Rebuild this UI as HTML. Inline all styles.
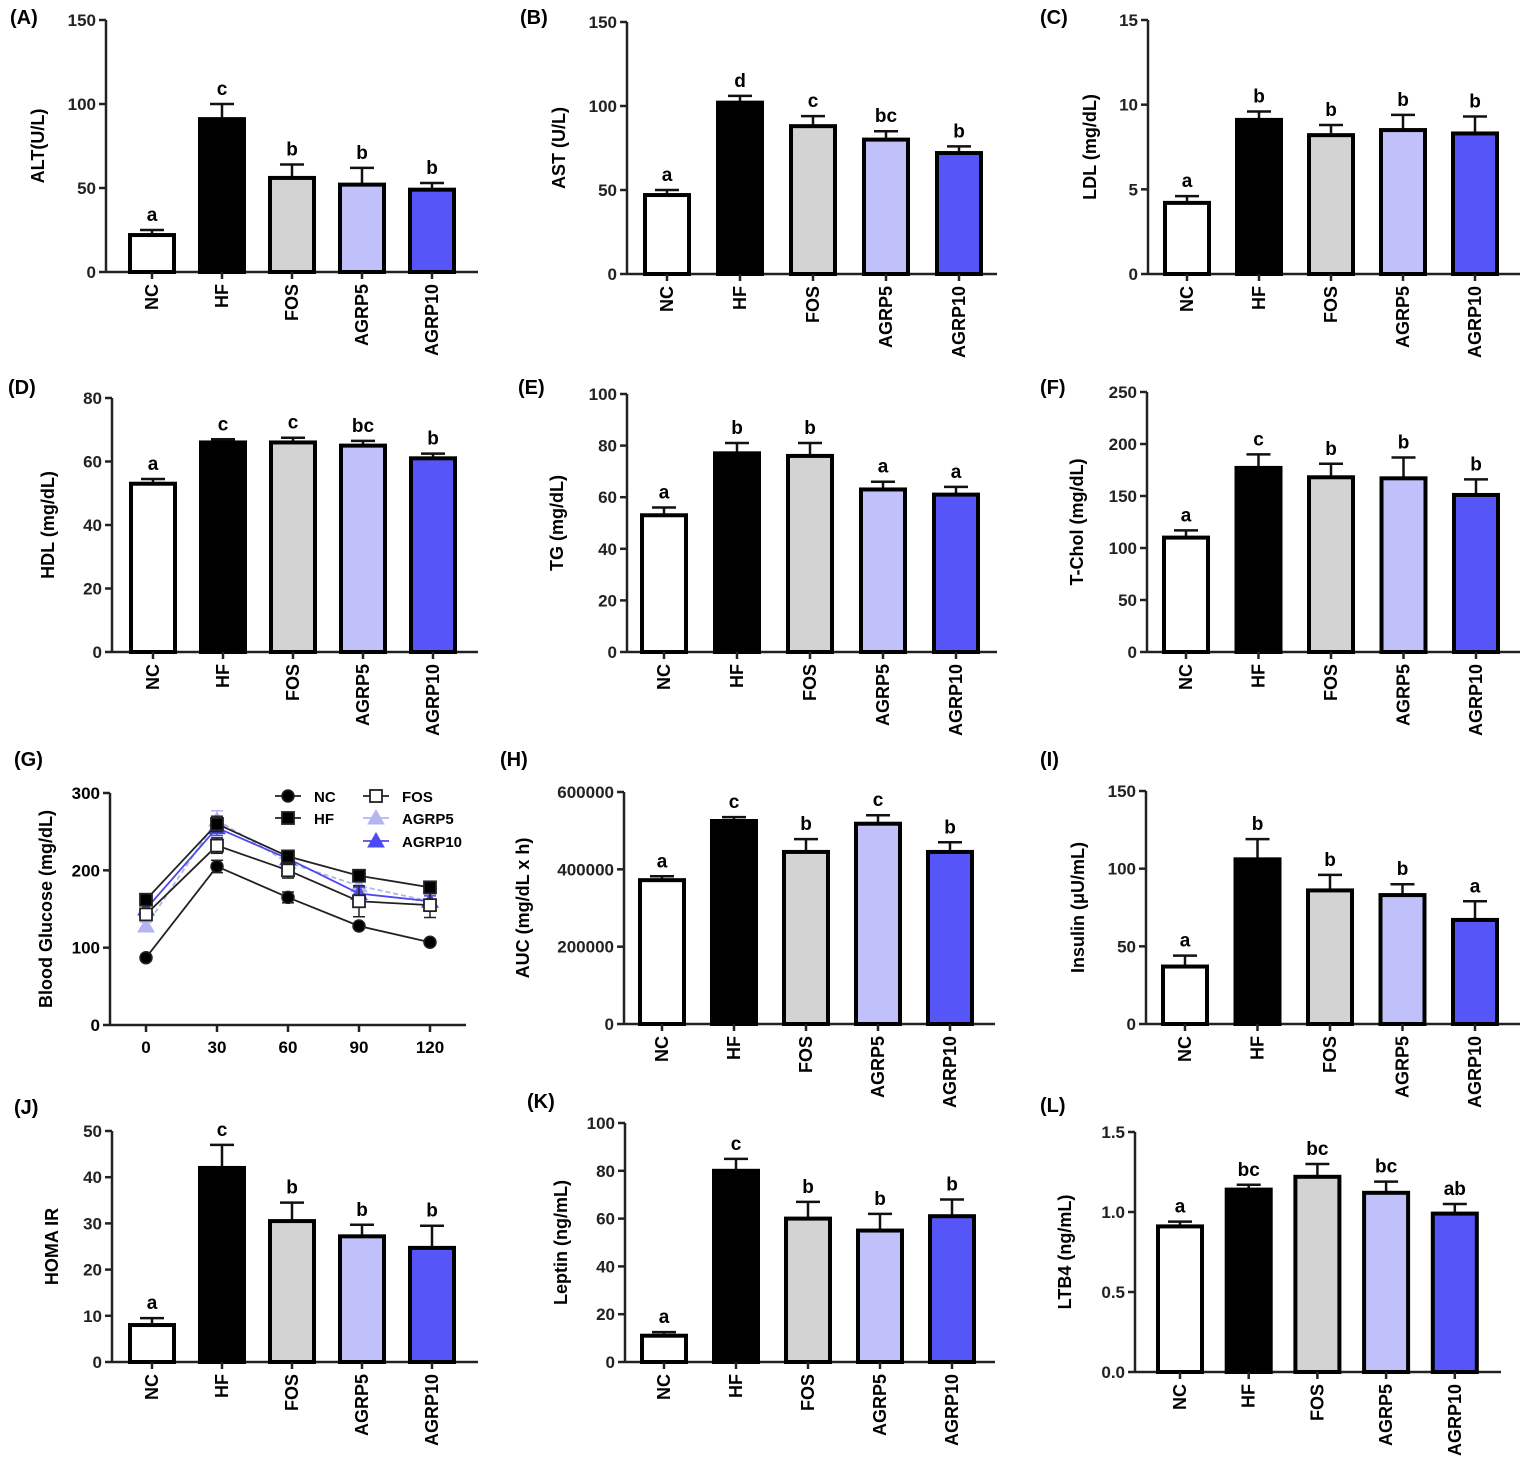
<!DOCTYPE html>
<html><head><meta charset="utf-8"><style>
html,body{margin:0;padding:0;background:#fff;}
svg{display:block;font-family:"Liberation Sans",Arial,sans-serif;}
</style></head><body>
<svg id="fig" width="1535" height="1463" viewBox="0 0 1535 1463" xmlns="http://www.w3.org/2000/svg"></svg>
<script>
// ===== data =====
const groups = ["NC","HF","FOS","AGRP5","AGRP10"];
const altVals = [22,91,56,52,49], altErr=[3,9,8,10,4], altLet=["a","c","b","b","b"];
const astVals = [47,102,88,80,72], astErr=[3,4,6,5,4], astLet=["a","d","c","bc","b"];
const ldlVals = [4.2,9.1,8.2,8.5,8.3], ldlErr=[0.4,0.5,0.6,0.9,1.0], ldlLet=["a","b","b","b","b"];
const hdlVals = [53,66,66,65,61], hdlErr=[1.5,1,1.5,1.5,1.5], hdlLet=["a","c","c","bc","b"];
const tgVals = [53,77,76,63,61], tgErr=[3,4,5,3,3], tgLet=["a","b","b","a","a"];
const tcVals = [110,177,168,167,151], tcErr=[7,13,13,20,15], tcLet=["a","c","b","b","b"];
const aucVals = [372000,525000,445000,518000,445000], aucErr=[10000,10000,33000,22000,25000], aucLet=["a","c","b","c","b"];
const insVals = [37,106,86,83,67], insErr=[7,13,10,7,12], insLet=["a","b","b","b","a"];
const homaVals = [8,42,30.5,27.2,24.7], homaErr=[1.5,5,4,2.5,4.8], homaLet=["a","c","b","b","b"];
const lepVals = [11,80,60,55,61], lepErr=[1.5,5,7,7,7], lepLet=["a","c","b","b","b"];
const ltbVals = [0.91,1.14,1.22,1.12,0.99], ltbErr=[0.03,0.03,0.08,0.07,0.06], ltbLet=["a","bc","bc","bc","ab"];
const tAltTicks=["0","50","100","150"], tLdlTicks=["0","5","10","15"], tHdlTicks=["0","20","40","60","80"];
const tTgTicks=["0","20","40","60","80","100"], tTcTicks=["0","50","100","150","200","250"];
const tAucTicks=["0","200000","400000","600000"], tHomaTicks=["0","10","20","30","40","50"];
const tLtbTicks=["0.0","0.5","1.0","1.5"], tGluTicks=["0","100","200","300"];
const times=[0,30,60,90,120];
const gluNC=[87,205,165,128,107], gluNCerr=[3,8,7,3,3];
const gluHF=[162,260,218,193,178], gluHFerr=[6,10,6,5,5];
const gluFOS=[143,232,200,160,155], gluFOSerr=[6,10,10,20,16];
const gluA5=[128,265,210,180,160], gluA5err=[5,12,8,10,8];
const gluA10=[150,255,215,170,160], gluA10err=[5,10,7,8,7];

const fills=["#ffffff","#000000","#d3d3d3","#c0c0fa","#5656f8"];
const svg=document.getElementById('fig');
const NS="http://www.w3.org/2000/svg";
function mk(tag,attrs,parent){const e=document.createElementNS(NS,tag);for(const k in attrs)e.setAttribute(k,attrs[k]);(parent||svg).appendChild(e);return e;}
function txt(s,attrs,parent){const e=mk('text',attrs,parent);e.textContent=s;return e;}

function barPanel(p){
  const g=mk('g',{});
  
  
  const ys=v=>p.bot-(v/p.max)*(p.bot-p.top);
  const lab=txt('('+p.label+')',{x:p.lx,y:p.ly,'font-size':20,'font-weight':'bold'},g);
  
  
  const ya=mk('line',{x1:p.ax,y1:p.top,x2:p.ax,y2:p.bot,stroke:'#222','stroke-width':2.5},g);
  
  
  p.ticks.forEach((t,i)=>{
    const v=i*p.max/(p.ticks.length-1), y=ys(v);
    mk('line',{x1:p.ax-7,y1:y,x2:p.ax,y2:y,stroke:'#222','stroke-width':2.5},g);
    const tl=txt(t,{x:p.ax-10,y:y+6,'font-size':17,'font-weight':'bold','text-anchor':'end',fill:'#222'},g);
    
    
  });
  const yt=txt(p.ytitle,{x:0,y:0,'font-size':18,'font-weight':'bold','text-anchor':'middle',transform:`translate(${p.ax-p.tOff},${(p.top+p.bot)/2}) rotate(-90)`},g);
  
  
  const xa=mk('line',{x1:p.ax,y1:p.bot,x2:p.xEnd,y2:p.bot,stroke:'#222','stroke-width':2.5},g);
  
  
  const bw=44;
  p.vals.forEach((v,i)=>{
    const cx=p.c0+i*p.sp, y=ys(v), ye=ys(v+p.err[i]);
    const el=mk('line',{x1:cx,y1:y,x2:cx,y2:ye,stroke:'#111','stroke-width':2.5},g);
    
    
    mk('line',{x1:cx-12,y1:ye,x2:cx+12,y2:ye,stroke:'#111','stroke-width':2.5},g);
    const r=mk('rect',{x:cx-bw/2,y:y,width:bw,height:p.bot-y,fill:fills[i],stroke:'#000','stroke-width':4},g);
    
    
    const lt=txt(p.lets[i],{x:cx,y:ye-9,'font-size':19,'font-weight':'bold','text-anchor':'middle'},g);
    
    
    mk('line',{x1:cx,y1:p.bot,x2:cx,y2:p.bot+7,stroke:'#222','stroke-width':2.5},g);
    const cl=txt(groups[i],{x:0,y:0,'font-size':18,'font-weight':'bold','text-anchor':'end',transform:`translate(${cx+6},${p.bot+12}) rotate(-90)`},g);
    
    
  });
}
const panels=[
 {id:'alt',label:'A',lx:10,ly:24,ax:106,top:20,bot:272,max:150,ticks:tAltTicks,c0:152,sp:70,xEnd:478,ytitle:'ALT(U/L)',tOff:62,vals:altVals,err:altErr,lets:altLet},
 {id:'ast',label:'B',lx:520,ly:24,ax:627,top:22,bot:274,max:150,ticks:tAltTicks,c0:667,sp:73,xEnd:997,ytitle:'AST (U/L)',tOff:62,vals:astVals,err:astErr,lets:astLet},
 {id:'ldl',label:'C',lx:1040,ly:24,ax:1148,top:20,bot:274,max:15,ticks:tLdlTicks,c0:1187,sp:72,xEnd:1520,ytitle:'LDL (mg/dL)',tOff:52,vals:ldlVals,err:ldlErr,lets:ldlLet},
 {id:'hdl',label:'D',lx:8,ly:394,ax:112,top:398,bot:652,max:80,ticks:tHdlTicks,c0:153,sp:70,xEnd:478,ytitle:'HDL (mg/dL)',tOff:58,vals:hdlVals,err:hdlErr,lets:hdlLet},
 {id:'tg',label:'E',lx:518,ly:394,ax:627,top:394,bot:652,max:100,ticks:tTgTicks,c0:664,sp:73,xEnd:997,ytitle:'TG (mg/dL)',tOff:64,vals:tgVals,err:tgErr,lets:tgLet},
 {id:'tchol',label:'F',lx:1040,ly:394,ax:1147,top:392,bot:652,max:250,ticks:tTcTicks,c0:1186,sp:72.5,xEnd:1520,ytitle:'T-Chol (mg/dL)',tOff:64,vals:tcVals,err:tcErr,lets:tcLet},
 {id:'auc',label:'H',lx:500,ly:766,ax:624,top:792,bot:1024,max:600000,ticks:tAucTicks,c0:662,sp:72,xEnd:995,ytitle:'AUC (mg/dL x h)',tOff:95,vals:aucVals,err:aucErr,lets:aucLet},
 {id:'insulin',label:'I',lx:1040,ly:766,ax:1146,top:791,bot:1024,max:150,ticks:tAltTicks,c0:1185,sp:72.5,xEnd:1520,ytitle:'Insulin (μU/mL)',tOff:62,vals:insVals,err:insErr,lets:insLet},
 {id:'homa',label:'J',lx:14,ly:1114,ax:112,top:1131,bot:1362,max:50,ticks:tHomaTicks,c0:152,sp:70,xEnd:478,ytitle:'HOMA IR',tOff:54,vals:homaVals,err:homaErr,lets:homaLet},
 {id:'leptin',label:'K',lx:527,ly:1108,ax:625,top:1123,bot:1362,max:100,ticks:tTgTicks,c0:664,sp:72,xEnd:995,ytitle:'Leptin (ng/mL)',tOff:58,vals:lepVals,err:lepErr,lets:lepLet},
 {id:'ltb4',label:'L',lx:1040,ly:1112,ax:1135,top:1132,bot:1372,max:1.5,ticks:tLtbTicks,c0:1180,sp:68.7,xEnd:1501,ytitle:'LTB4 (ng/mL)',tOff:64,vals:ltbVals,err:ltbErr,lets:ltbLet}
];
panels.forEach(barPanel);

// ===== Panel G line chart =====
(function(){
  const g=mk('g',{});
  
  
  const ax=110, top=793, bot=1025, max=300, x0=146, x1=430;
  const ys=v=>bot-(v/max)*(bot-top), xs=t=>x0+(t/120)*(x1-x0);
  const lab=txt('(G)',{x:14,y:766,'font-size':20,'font-weight':'bold'},g);
  
  
  mk('line',{x1:ax,y1:top,x2:ax,y2:bot,stroke:'#222','stroke-width':2.5},g);
  mk('line',{x1:ax,y1:bot,x2:466,y2:bot,stroke:'#222','stroke-width':2.5},g);
  tGluTicks.forEach((t,i)=>{const y=ys(i*100);
    mk('line',{x1:ax-7,y1:y,x2:ax,y2:y,stroke:'#222','stroke-width':2.5},g);
    const tl=txt(t,{x:ax-10,y:y+6,'font-size':17,'font-weight':'bold','text-anchor':'end'},g);
    
    });
  times.forEach(t=>{const x=xs(t);
    mk('line',{x1:x,y1:bot,x2:x,y2:bot+7,stroke:'#222','stroke-width':2.5},g);
    const tl=txt(String(t),{x:x,y:bot+28,'font-size':17,'font-weight':'bold','text-anchor':'middle'},g);
    
    });
  const yt=txt('Blood Glucose (mg/dL)',{x:0,y:0,'font-size':18,'font-weight':'bold','text-anchor':'middle',transform:`translate(${52},${(top+bot)/2}) rotate(-90)`},g);
  
  
  const series=[
    {n:'A5',v:gluA5,e:gluA5err,c:'#b4b4ee',m:'tri',f:'#b4b4ee',dash:'5,3'},
    {n:'A10',v:gluA10,e:gluA10err,c:'#4a4af0',m:'tri',f:'#4a4af0',dash:''},
    {n:'NC',v:gluNC,e:gluNCerr,c:'#222',m:'circ',f:'#000',dash:''},
    {n:'FOS',v:gluFOS,e:gluFOSerr,c:'#222',m:'sq',f:'#fff',dash:''},
    {n:'HF',v:gluHF,e:gluHFerr,c:'#222',m:'sq',f:'#000',dash:''}
  ];
  function marker(m,x,y,c,f,par){
    if(m==='circ') return mk('circle',{cx:x,cy:y,r:6,fill:f,stroke:c,'stroke-width':1.5},par);
    if(m==='sq') return mk('rect',{x:x-6,y:y-6,width:12,height:12,fill:f,stroke:c,'stroke-width':1.8},par);
    return mk('polygon',{points:`${x},${y-8} ${x-8},${y+6} ${x+8},${y+6}`,fill:f,stroke:c,'stroke-width':1},par);
  }
  series.forEach(s=>{
    const pts=s.v.map((v,i)=>xs(times[i])+','+ys(v)).join(' ');
    const pl=mk('polyline',{points:pts,fill:'none',stroke:s.c,'stroke-width':1.8,'stroke-dasharray':s.dash},g);
    
    
    s.v.forEach((v,i)=>{const x=xs(times[i]);
      mk('line',{x1:x,y1:ys(v-s.e[i]),x2:x,y2:ys(v+s.e[i]),stroke:s.c,'stroke-width':1.5},g);
      mk('line',{x1:x-6,y1:ys(v+s.e[i]),x2:x+6,y2:ys(v+s.e[i]),stroke:s.c,'stroke-width':1.5},g);
      mk('line',{x1:x-6,y1:ys(v-s.e[i]),x2:x+6,y2:ys(v-s.e[i]),stroke:s.c,'stroke-width':1.5},g);
      const mm=marker(s.m,x,ys(v),s.c,s.f,g);
      
      });
  });
  const leg=[['NC',275,796,'circ','#222','#000'],['HF',275,818,'sq','#222','#000'],['FOS',363,796,'sq','#222','#fff'],['AGRP5',363,818,'tri','#b4b4ee','#b4b4ee'],['AGRP10',363,841,'tri','#4a4af0','#4a4af0']];
  leg.forEach(l=>{
    const lg=mk('g',{},g);
    
    
    mk('line',{x1:l[1],y1:l[2],x2:l[1]+26,y2:l[2],stroke:l[4],'stroke-width':1.8},lg);
    marker(l[3],l[1]+13,l[2],l[4],l[5],lg);
    txt(l[0],{x:l[1]+39,y:l[2]+6,'font-size':15,'font-weight':'bold'},lg);
  });
})();
</script>
</body></html>
